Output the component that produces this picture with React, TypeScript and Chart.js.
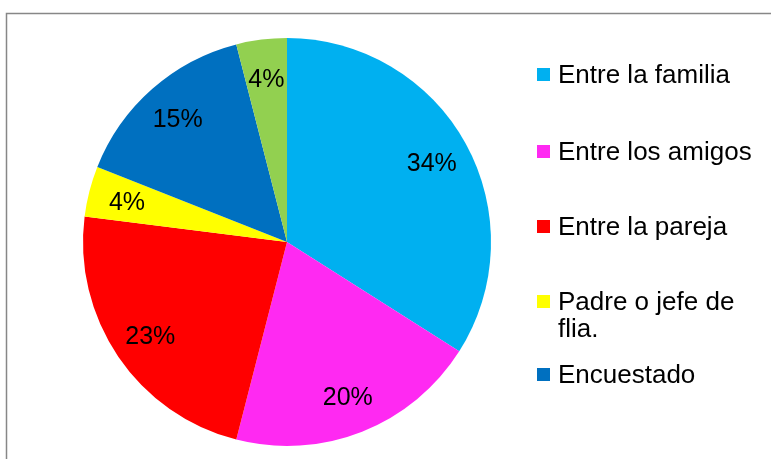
import React, { useEffect, useRef } from "react";
import { Chart, registerables } from "chart.js";

Chart.register(...registerables);

const categories = ["Entre la familia", "Entre los amigos", "Entre la pareja", "Padre o jefe de flia.", "Encuestado", "Otros"];
const values = [34, 20, 23, 4, 15, 4];
const colors = ["#00B0F0", "#FF29F2", "#FF0000", "#FFFF00", "#0070C0", "#92D050"];
const legendLines = [["Entre la familia"], ["Entre los amigos"], ["Entre la pareja"], ["Padre o jefe de", "flia."], ["Encuestado"]];
const legendBaselines = [83, 160, 235, 310, 383];

const LABEL_FONT = "25px 'Liberation Sans', Arial, sans-serif";
const LEGEND_FONT = "26px 'Liberation Sans', Arial, sans-serif";

const framePlugin = {
  id: "frame",
  beforeDraw(chart: any) {
    const ctx = chart.ctx;
    ctx.save();
    ctx.fillStyle = "#ffffff";
    ctx.fillRect(0, 0, chart.width, chart.height);
    ctx.strokeStyle = "#878787";
    ctx.lineWidth = 1.5;
    ctx.strokeRect(6.5, 13.5, chart.width + 20, chart.height + 20);
    ctx.restore();
  },
};

const labelPlugin = {
  id: "pieLabels",
  afterDatasetsDraw(chart: any) {
    const ctx = chart.ctx;
    const meta = chart.getDatasetMeta(0);
    const data = chart.data.datasets[0].data as number[];
    const total = data.reduce((a: number, b: number) => a + b, 0);
    ctx.save();
    ctx.font = LABEL_FONT;
    ctx.fillStyle = "#000000";
    ctx.textAlign = "center";
    ctx.textBaseline = "alphabetic";
    meta.data.forEach((arc: any, i: number) => {
      const { x, y, startAngle, endAngle, outerRadius } = arc.getProps(["x", "y", "startAngle", "endAngle", "outerRadius"], true);
      const mid = (startAngle + endAngle) / 2;
      const d = outerRadius * 0.81;
      const px = x + Math.cos(mid) * d;
      const py = y + Math.sin(mid) * d;
      const pct = Math.round((data[i] / total) * 100) + "%";
      ctx.fillText(pct, px, py + 9);
    });
    ctx.restore();
  },
};

const legendPlugin = {
  id: "customLegend",
  afterDraw(chart: any) {
    const ctx = chart.ctx;
    ctx.save();
    ctx.font = LEGEND_FONT;
    ctx.textAlign = "left";
    ctx.textBaseline = "alphabetic";
    legendLines.forEach((lines, i) => {
      const base = legendBaselines[i];
      ctx.fillStyle = colors[i];
      ctx.fillRect(537, base - 15, 13, 13);
      ctx.fillStyle = "#000000";
      lines.forEach((line, j) => {
        ctx.fillText(line, 558, base + j * 27);
      });
    });
    ctx.restore();
  },
};

export default function App() {
  const ref = useRef<HTMLCanvasElement | null>(null);
  useEffect(() => {
    document.body.style.margin = "0";
    const chart = new Chart(ref.current as HTMLCanvasElement, {
      type: "pie",
      data: {
        labels: categories,
        datasets: [
          {
            data: values,
            backgroundColor: colors,
            borderWidth: 0,
          },
        ],
      },
      options: {
        responsive: false,
        animation: false,
        layout: { padding: { left: 83, top: 38, right: 280, bottom: 13 } },
        plugins: {
          legend: { display: false },
          tooltip: { enabled: false },
        },
      },
      plugins: [framePlugin, labelPlugin, legendPlugin],
    });
    return () => chart.destroy();
  }, []);
  return <canvas ref={ref} width={771} height={459} style={{ display: "block" }} />;
}
